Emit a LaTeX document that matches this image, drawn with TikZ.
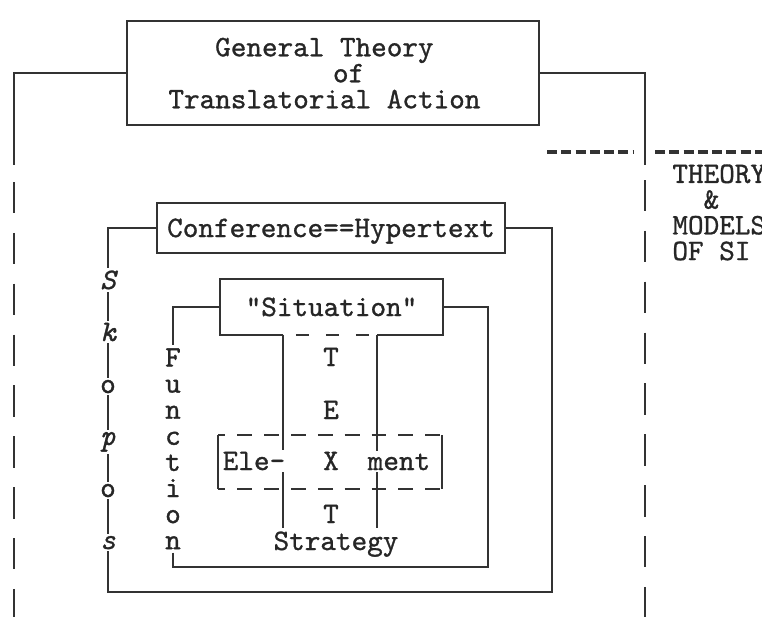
\documentclass[tikz,border=0pt]{standalone}
\usepackage{fontspec}
\setmonofont{Latin Modern Mono}[FakeBold=1]
\usetikzlibrary{calc}

\tikzset{
  tw/.style={font=\ttfamily\fontsize{10.4}{9.1}\selectfont, text=black!85, inner sep=1pt},
  boxed/.style={tw, draw=black!80, line width=0.7pt, text depth=0pt},
  wire/.style={draw=black!80, line width=0.7pt},
  brokenwire/.style={wire, dash pattern=on 11pt off 6.8pt},
  hyphenwire/.style={wire, line width=1.1pt, dash pattern=on 3.5pt off 1.5pt},
  gapwire/.style={wire, dash pattern=on 4.5pt off 6pt, dash phase=6pt},
  framewire/.style={wire, dash pattern=on 5.2pt off 4.2pt, dash phase=2.8pt},
  letter/.style={tw, fill=white, inner sep=0.8pt, anchor=base}
}

\begin{document}
\begin{tikzpicture}[x=0.35pt,y=-0.35pt]
  \useasboundingbox (0,0) rectangle (762,617);

  \node[boxed,align=center,minimum width={412*0.35pt},minimum height={104*0.35pt}] (GT) at (333,73)
    {General Theory\hspace*{6pt}\\\phantom{xx}of\hspace*{6pt}\\Translatorial Action\hspace*{6pt}};
  \coordinate (LT) at (14,165);  \coordinate (LD) at (14,182);  \coordinate (LB) at (14,617);
  \coordinate (RT) at (645,165); \coordinate (RD) at (645,180); \coordinate (RB) at (645,617);
  \draw[wire] (GT.west) -| (LT);
  \draw[wire] (GT.east) -| (RT);
  \draw[brokenwire] (LD) -- (LB);
  \draw[brokenwire] (RD) -- (RB);

  \coordinate (SL) at (547,152); \coordinate (SM) at (633,152);
  \coordinate (SN) at (655,152); \coordinate (SR) at (762,152);
  \draw[hyphenwire] (SL) -- (SM);
  \draw[hyphenwire] (SN) -- (SR);
  \node[tw,align=left,anchor=north west,font=\ttfamily\fontsize{10.4}{9}\selectfont] (TM) at (669,161)
    {THEORY\\\phantom{xx}\&\\MODELS\\OF SI};

  \node[boxed,minimum width={348*0.35pt},minimum height={50*0.35pt},text height=6.3pt] (CH) at (331,228)
    {Conference==Hypertext};
  \coordinate (KL) at (108,592); \coordinate (KR) at (552,592);
  \draw[wire] (CH.west) -| (KL) -- (KR) |- (CH.east);
  \foreach \ch [count=\i from 0] in {S,k,\upshape o,p,\upshape o,s}
    \node[letter,font=\ttfamily\itshape\fontsize{10.4}{9.1}\selectfont] (K\i) at (108,{289+52*\i}) {\ch};

  \node[tw,minimum width={221*0.35pt},minimum height={54*0.35pt},text height=6.3pt,text depth=0pt] (SI) at (331.5,307)
    {"Situation"};
  \node[tw,anchor=base] (STR) at (336,550) {Strategy};
  \coordinate (CL) at (283,334); \coordinate (CR) at (377,334);
  \draw[wire] (CL |- SI.south) -- (SI.south west) -- (SI.north west) -- (SI.north east)
    -- (SI.south east) -- (CR |- SI.south);
  \draw[gapwire] (CL |- SI.south) -- (CR |- SI.south);

  \foreach \ch [count=\i from 0] in {F,u,n,c,t,i,o,n}
    \node[tw,anchor=base] (F\i) at (173,{366.5+26.1*\i}) {\ch};
  \coordinate (FR) at (488,567);
  \draw[wire] (SI.west) -| (F0.north);
  \draw[wire] (F7.south) |- (FR) |- (SI.east);

  \node[minimum width={222*0.35pt},minimum height={52*0.35pt},inner sep=0pt] (EL) at (330,462) {};
  \draw[wire] (EL.north west) -- (EL.south west);
  \draw[wire] (EL.north east) -- (EL.south east);
  \draw[framewire] (EL.north west) -- (EL.north east);
  \draw[framewire] (EL.south west) -- (EL.south east);
  \draw[wire] (CL |- SI.south) -- (CL |- STR.north);
  \draw[wire] (CR |- SI.south) -- (CR |- STR.north);

  \foreach \ch/\yy [count=\i] in {T/366,E/419,X/470,T/523}
    \node[tw,anchor=base] (TX\i) at (331,\yy) {\ch};
  \node[letter,inner xsep=0.3pt] (EE) at (254,470) {Ele-};
  \node[letter,inner xsep=0.3pt] (EM) at (399,470) {ment};
\end{tikzpicture}
\end{document}
